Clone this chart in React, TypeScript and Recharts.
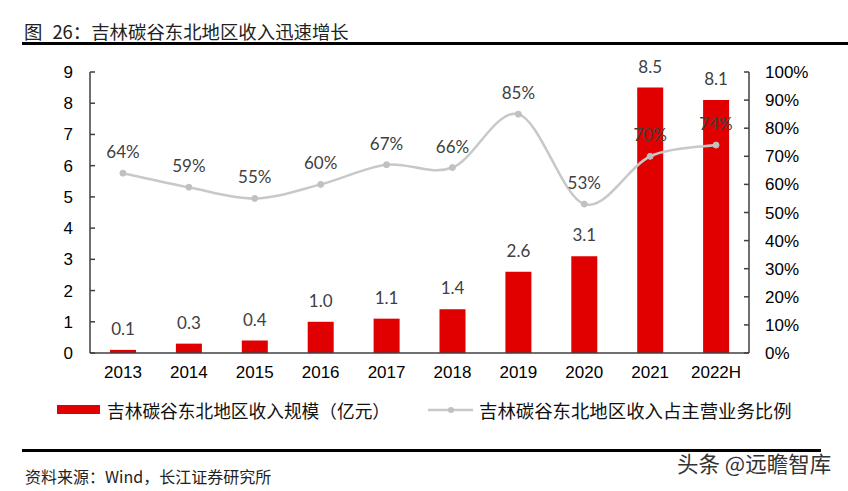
import React from "react";
import {
  ComposedChart,
  Bar,
  Line,
  XAxis,
  YAxis,
  LabelList,
  Legend,
} from "recharts";

const years = ["2013", "2014", "2015", "2016", "2017", "2018", "2019", "2020", "2021", "2022H"];
const revenue = [0.1, 0.3, 0.4, 1.0, 1.1, 1.4, 2.6, 3.1, 8.5, 8.1];
const share = [64, 59, 55, 60, 67, 66, 85, 53, 70, 74];
const leftTicks = [0, 1, 2, 3, 4, 5, 6, 7, 8, 9];
const rightTicks = [0, 10, 20, 30, 40, 50, 60, 70, 80, 90, 100];

const barName = "吉林碳谷东北地区收入规模（亿元）";
const lineName = "吉林碳谷东北地区收入占主营业务比例";

const data = years.map((y, i) => ({ year: y, revenue: revenue[i], share: share[i] }));

// Catmull-Rom style smoothing, similar to Excel's smoothed line
const smoothCurve: any = (context: any) => {
  let pts: [number, number][] = [];
  return {
    areaStart() {},
    areaEnd() {},
    lineStart() {
      pts = [];
    },
    point(x: number, y: number) {
      pts.push([+x, +y]);
    },
    lineEnd() {
      if (!pts.length) return;
      context.moveTo(pts[0][0], pts[0][1]);
      for (let i = 0; i < pts.length - 1; i++) {
        const p0 = pts[i - 1] || pts[i];
        const p1 = pts[i];
        const p2 = pts[i + 1];
        const p3 = pts[i + 2] || p2;
        const c1x = p1[0] + (p2[0] - p0[0]) / 6;
        const c1y = p1[1] + (p2[1] - p0[1]) / 6;
        const c2x = p2[0] - (p3[0] - p1[0]) / 6;
        const c2y = p2[1] - (p3[1] - p1[1]) / 6;
        context.bezierCurveTo(c1x, c1y, c2x, c2y, p2[0], p2[1]);
      }
    },
  };
};

const axisFont = { fontFamily: "'Liberation Sans', Arial, sans-serif", fontSize: 17, fill: "#000" };
const labelFont = { fontFamily: "Lato, 'Open Sans', sans-serif", fontSize: 17, fill: "#404040" };
const cjk = "'Noto Sans CJK SC', sans-serif";

const renderLegend = () => (
  <div style={{ position: "relative", width: 848, height: 24, fontFamily: cjk, color: "#111" }}>
    <div style={{ position: "absolute", left: 57, top: 8, width: 43, height: 9, background: "#E00000" }} />
    <div style={{ position: "absolute", left: 107, top: 0, whiteSpace: "nowrap", lineHeight: "26px", fontSize: 17.7 }}>
      {barName}
    </div>
    <svg style={{ position: "absolute", left: 426, top: 7 }} width={49} height={12}>
      <line x1={2} y1={6} x2={47} y2={6} stroke="#C8C8C8" strokeWidth={2.5} />
      <circle cx={25} cy={6} r={3} fill="#C0C0C0" />
    </svg>
    <div style={{ position: "absolute", left: 479, top: 0, whiteSpace: "nowrap", lineHeight: "26px", fontSize: 18.4 }}>
      {lineName}
    </div>
  </div>
);

export default function App() {
  return (
    <div style={{ position: "absolute", left: 0, top: 0, width: 848, height: 491, background: "#fff" }}>
      <div
        style={{
          position: "absolute",
          left: 24,
          top: 18,
          fontFamily: cjk,
          fontSize: 18.4,
          color: "#222",
          whiteSpace: "nowrap",
          lineHeight: "26px",
        }}
      >
        图<span style={{ marginLeft: 10 }}>26：</span>吉林碳谷东北地区收入迅速增长
      </div>
      <div style={{ position: "absolute", left: 22, top: 42, width: 826, height: 2.5, background: "#000" }} />

      <div style={{ position: "absolute", left: 0, top: 0 }}>
        <ComposedChart
          width={848}
          height={491}
          data={data}
          margin={{ top: 72, right: 0, bottom: 108, left: 0 }}
          barSize={26}
        >
          <XAxis
            dataKey="year"
            tickLine={false}
            tickSize={0}
            tickMargin={13}
            height={30}
            axisLine={{ stroke: "#404040", strokeWidth: 1.5 }}
            tick={axisFont}
            interval={0}
          />
          <YAxis
            yAxisId="left"
            orientation="left"
            width={90}
            domain={[0, 9]}
            ticks={leftTicks}
            interval={0}
            tickSize={-5}
            tickMargin={22}
            axisLine={{ stroke: "#404040", strokeWidth: 1.5 }}
            tickLine={{ stroke: "#404040", strokeWidth: 1.5 }}
            tick={axisFont}
          />
          <YAxis
            yAxisId="right"
            orientation="right"
            width={99}
            domain={[0, 100]}
            ticks={rightTicks}
            interval={0}
            tickSize={-5}
            tickMargin={21}
            tickFormatter={(v: number) => `${v}%`}
            axisLine={{ stroke: "#404040", strokeWidth: 1.5 }}
            tickLine={{ stroke: "#404040", strokeWidth: 1.5 }}
            tick={axisFont}
          />
          <Bar yAxisId="left" dataKey="revenue" name={barName} fill="#E00000" isAnimationActive={false}>
            <LabelList
              dataKey="revenue"
              position="top"
              offset={15}
              formatter={(v: number) => v.toFixed(1)}
              style={labelFont}
            />
          </Bar>
          <Line
            yAxisId="right"
            dataKey="share"
            name={lineName}
            type={smoothCurve}
            stroke="#C8C8C8"
            strokeWidth={2.5}
            dot={{ r: 3, fill: "#C0C0C0", stroke: "#C0C0C0", strokeWidth: 1 }}
            activeDot={false}
            isAnimationActive={false}
          >
            <LabelList
              dataKey="share"
              position="top"
              offset={15}
              formatter={(v: number) => `${v}%`}
              style={labelFont}
            />
          </Line>
          <Legend
            layout="horizontal"
            verticalAlign="middle"
            align="center"
            content={renderLegend}
            wrapperStyle={{ position: "absolute", left: 0, top: 397, width: 848, height: 26 }}
          />
        </ComposedChart>
      </div>

      <div style={{ position: "absolute", left: 22, top: 449, width: 799, height: 2.5, background: "#000" }} />
      <div
        style={{
          position: "absolute",
          left: 25,
          top: 464,
          fontFamily: cjk,
          fontSize: 16,
          color: "#222",
          whiteSpace: "nowrap",
          lineHeight: "24px",
        }}
      >
        资料来源：Wind，长江证券研究所
      </div>
      <div
        style={{
          position: "absolute",
          left: 677,
          top: 448,
          fontFamily: cjk,
          fontSize: 21.5,
          color: "#333",
          whiteSpace: "nowrap",
          lineHeight: "30px",
        }}
      >
        头条 @远瞻智库
      </div>
    </div>
  );
}
